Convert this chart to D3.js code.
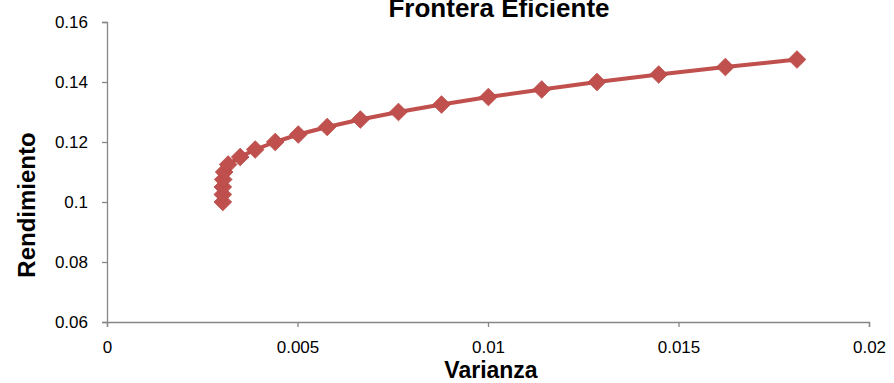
<!DOCTYPE html>
<html>
<head>
<meta charset="utf-8">
<script src="https://cdn.jsdelivr.net/npm/d3@7"></script>
<style>
  body { margin: 0; background: #fff; }
  svg text { font-family: "Liberation Sans Narrow", "Liberation Sans", sans-serif; }
</style>
</head>
<body>
<svg id="chart" width="894" height="383"></svg>
<script>
// datos de la frontera eficiente
var varianza = [0.00304, 0.00304, 0.00304, 0.00305, 0.003075, 0.00318, 0.003495, 0.00389,
  0.004415, 0.00502, 0.00578, 0.00665, 0.00765, 0.00878, 0.01001, 0.01141,
  0.01286, 0.01448, 0.01623, 0.01811];
var rendimiento = [0.1, 0.1025, 0.105, 0.1075, 0.11, 0.1125, 0.115, 0.1175,
  0.12, 0.1225, 0.125, 0.1275, 0.13, 0.1325, 0.135, 0.1375,
  0.14, 0.1425, 0.145, 0.1475];
var xTicks = [0, 0.005, 0.01, 0.015, 0.02];
var yTicks = [0.06, 0.08, 0.1, 0.12, 0.14, 0.16];

var puntos = varianza.map((v, i) => ({x: v, y: rendimiento[i]}));

var svg = d3.select("#chart");
var rojo = "#c0504d";

var x = d3.scaleLinear().domain([0, 0.02]).range([107, 869]);
var y = d3.scaleLinear().domain([0.06, 0.16]).range([322, 22]);

var fmt = d => String(+d.toFixed(4));

// ejes
var gx = svg.append("g")
    .attr("transform", "translate(0,322)")
    .call(d3.axisBottom(x).tickValues(xTicks).tickSize(5).tickPadding(14).tickFormat(fmt));
var gy = svg.append("g")
    .attr("transform", "translate(107,0)")
    .call(d3.axisLeft(y).tickValues(yTicks).tickSize(5).tickPadding(14).tickFormat(fmt));

[gx, gy].forEach(g => {
  g.select(".domain").attr("stroke", "#868686").attr("stroke-width", 1.3);
  g.selectAll(".tick line").attr("stroke", "#868686").attr("stroke-width", 1.3);
  g.selectAll(".tick text")
    .attr("font-size", 17)
    .attr("fill", "#000")
    .style("font-family", "'Liberation Sans Narrow', 'Liberation Sans', sans-serif");
});

// linea
var line = d3.line().x(d => x(d.x)).y(d => y(d.y));
svg.append("path")
    .datum(puntos)
    .attr("fill", "none")
    .attr("stroke", rojo)
    .attr("stroke-width", 4)
    .attr("stroke-linejoin", "round")
    .attr("d", line);

// marcadores (rombos)
var rombo = d3.symbol().type(d3.symbolDiamond2).size(200);
svg.append("g")
  .selectAll("path")
  .data(puntos)
  .enter()
  .append("path")
    .attr("d", rombo)
    .attr("transform", d => "translate(" + x(d.x) + "," + y(d.y) + ")")
    .attr("fill", rojo)
    .attr("stroke", "#b94a47")
    .attr("stroke-width", 0.8);

// titulos
svg.append("text")
    .attr("x", 499)
    .attr("y", 17)
    .attr("text-anchor", "middle")
    .attr("font-size", 26)
    .attr("font-weight", "bold")
    .text("Frontera Eficiente");

svg.append("text")
    .attr("x", 491)
    .attr("y", 378)
    .attr("text-anchor", "middle")
    .attr("font-size", 23)
    .attr("font-weight", "bold")
    .text("Varianza");

svg.append("text")
    .attr("transform", "translate(35,205) rotate(-90)")
    .attr("text-anchor", "middle")
    .attr("font-size", 24)
    .attr("font-weight", "bold")
    .text("Rendimiento");
</script>
</body>
</html>
